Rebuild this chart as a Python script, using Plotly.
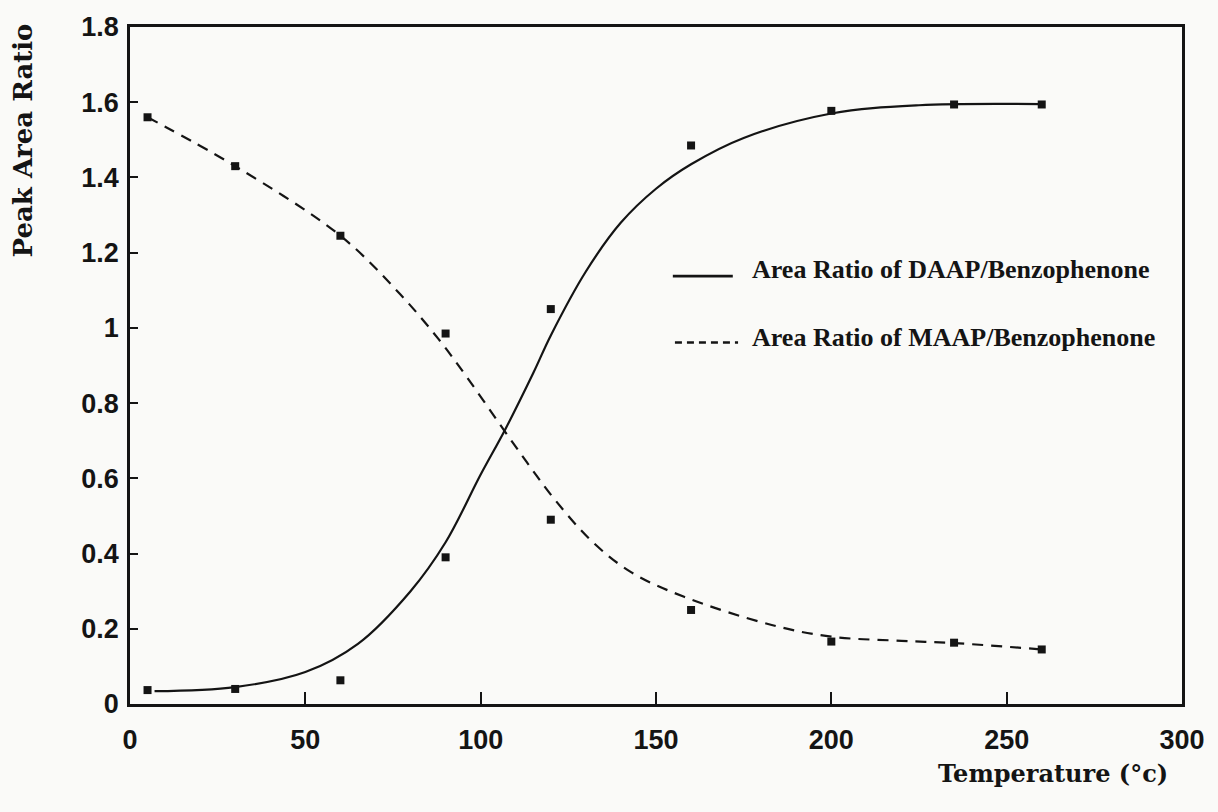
import plotly.graph_objects as go

# Measured data points
temp = [5, 30, 60, 90, 120, 160, 200, 235, 260]
daap_ratio = [0.037, 0.040, 0.063, 0.39, 1.05, 1.485, 1.577, 1.594, 1.594]
maap_ratio = [1.56, 1.43, 1.245, 0.985, 0.49, 0.25, 0.166, 0.163, 0.145]

# Fitted curves
daap_curve_x = [7, 30, 50, 65, 80, 90, 100, 107, 115, 120, 130, 140, 150, 160, 175, 200, 225, 260]
daap_curve_y = [0.034, 0.045, 0.085, 0.16, 0.30, 0.43, 0.61, 0.73, 0.88, 0.98, 1.15, 1.28,
                1.37, 1.435, 1.505, 1.57, 1.592, 1.595]
maap_curve_x = [5, 30, 60, 77, 88, 96, 105, 113, 121, 132, 143, 158, 183, 200, 220, 235, 260]
maap_curve_y = [1.56, 1.43, 1.245, 1.09, 0.97, 0.87, 0.75, 0.645, 0.545, 0.43, 0.35, 0.285,
                0.21, 0.179, 0.168, 0.162, 0.145]

x_ticks = [0, 50, 100, 150, 200, 250, 300]
y_ticks = [0, 0.2, 0.4, 0.6, 0.8, 1, 1.2, 1.4, 1.6, 1.8]
y_ticktext = ["0", "0.2", "0.4", "0.6", "0.8", "1", "1.2", "1.4", "1.6", "1.8"]

series_names = ["Area Ratio of DAAP/Benzophenone", "Area Ratio of MAAP/Benzophenone"]

INK = "#141414"
BG = "#fafaf8"
DASH = "11px,8px"

fig = go.Figure()
fig.add_trace(go.Scatter(
    x=daap_curve_x, y=daap_curve_y, mode="lines", line_shape="spline",
    line=dict(color=INK, width=2.2), name=series_names[0], showlegend=False))
fig.add_trace(go.Scatter(
    x=maap_curve_x, y=maap_curve_y, mode="lines", line_shape="spline",
    line=dict(color=INK, width=2.2, dash=DASH), name=series_names[1], showlegend=False))
fig.add_trace(go.Scatter(
    x=temp, y=daap_ratio, mode="markers", showlegend=False, name="DAAP data",
    marker=dict(symbol="square", size=8, color=INK)))
fig.add_trace(go.Scatter(
    x=temp, y=maap_ratio, mode="markers", showlegend=False, name="MAAP data",
    marker=dict(symbol="square", size=8, color=INK)))

tickfont = dict(family="Liberation Sans", size=27, color=INK, weight="bold")
legfont = dict(family="Liberation Serif", size=26, color=INK, weight="bold")
titlefont = dict(family="DejaVu Serif", size=24, color=INK, weight="bold")

# hand-built legend (line samples + labels)
legend_shapes = [
    dict(type="line", xref="paper", yref="paper", x0=0.516, x1=0.573, y0=0.632, y1=0.632,
         line=dict(color=INK, width=2.6)),
    dict(type="line", xref="paper", yref="paper", x0=0.518, x1=0.578, y0=0.534, y1=0.534,
         line=dict(color=INK, width=2.6, dash="7px,5px")),
]
legend_texts = [
    dict(text=series_names[0], xref="paper", yref="paper", x=0.589, y=0.642,
         xanchor="left", yanchor="middle", showarrow=False, font=legfont),
    dict(text=series_names[1], xref="paper", yref="paper", x=0.589, y=0.541,
         xanchor="left", yanchor="middle", showarrow=False, font=legfont),
]

fig.update_layout(
    width=1218, height=812,
    margin=dict(l=130, r=36, t=20, b=108),
    paper_bgcolor=BG, plot_bgcolor=BG,
    showlegend=False,
    xaxis=dict(range=[0, 300], tickvals=x_ticks, ticks="inside", ticklen=12, tickwidth=2,
               tickcolor=INK, showline=True, linecolor=INK, linewidth=2.5, mirror=True,
               showgrid=False, zeroline=False, tickfont=tickfont, ticklabelstandoff=10),
    yaxis=dict(range=[0, 1.8], tickvals=y_ticks, ticktext=y_ticktext, ticks="inside",
               ticklen=8, tickwidth=2, tickcolor=INK, showline=True, linecolor=INK,
               linewidth=2.5, mirror=True, showgrid=False, zeroline=False,
               tickfont=tickfont, ticklabelstandoff=3),
    shapes=legend_shapes,
    annotations=legend_texts + [
        dict(text="Temperature (°c)", xref="paper", yref="paper", x=0.989, y=-0.102,
             xanchor="right", yanchor="middle", showarrow=False, font=titlefont),
        dict(text="Peak Area Ratio", xref="paper", yref="paper", x=-0.102, y=0.832,
             xanchor="center", yanchor="middle", textangle=-90, showarrow=False,
             font=dict(family="DejaVu Serif", size=26, color=INK, weight="bold")),
    ],
)

fig.write_html("out.html")
